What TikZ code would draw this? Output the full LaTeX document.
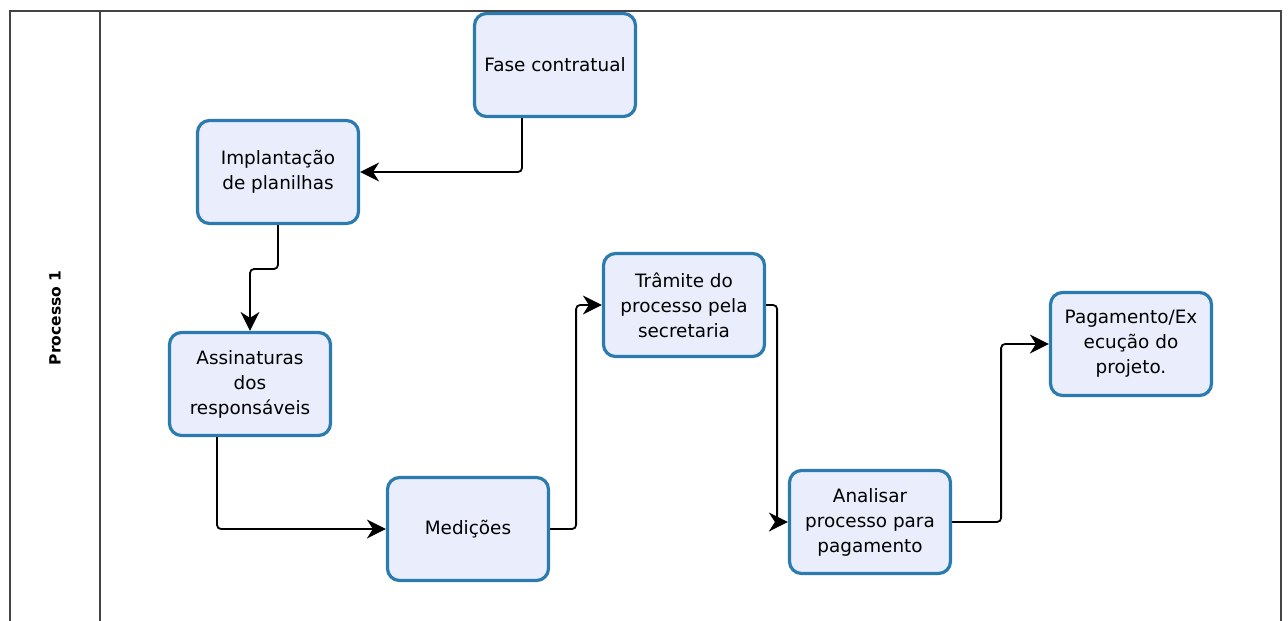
\documentclass[tikz,border=0pt]{standalone}
\usepackage{fontspec}
\setmainfont{DejaVu Sans}
\usetikzlibrary{arrows.meta}
\definecolor{boxborder}{HTML}{2B7BAE}
\definecolor{boxfill}{HTML}{EAEEFC}
\definecolor{framecol}{HTML}{444444}
\tikzset{
  stepbox/.style={draw=boxborder, fill=boxfill, line width=3.2pt, rounded corners=12pt,
    minimum width=161pt, minimum height=103pt, inner sep=0pt, align=center,
    font=\fontsize{18.4pt}{25pt}\selectfont, text=black},
  conn/.style={draw=black, line width=1.8pt, rounded corners=4pt,
    -{Stealth[length=19pt,width=19pt,inset=6pt]}},
  frameline/.style={draw=framecol, line width=1.8pt}
}
\begin{document}
\begin{tikzpicture}[x=1pt,y=-1pt]
\useasboundingbox (0,0) rectangle (1288,621);
\fill[white] (0,0) rectangle (1288,621);
\draw[frameline] (10,640) -- (10,11) -- (1281,11) -- (1281,640);
\draw[frameline] (100,11) -- (100,640);
\node[rotate=90, font=\fontsize{15.5pt}{18pt}\selectfont\bfseries] (lane) at (55,318) {Processo 1};

\node[stepbox] (fase) at (555,65) {Fase contratual};
\node[stepbox] (impl) at (278,172) {Implantação\\de planilhas};
\node[stepbox] (ass) at (250,384) {Assinaturas\\dos\\responsáveis};
\node[stepbox] (med) at (468,529) {Medições};
\node[stepbox] (tram) at (684,305) {Trâmite do\\processo pela\\secretaria};
\node[stepbox] (anal) at (870,522) {Analisar\\processo para\\pagamento};
\node[stepbox] (pag) at (1131,344) {Pagamento/Ex\\ecução do\\projeto.};

\draw[conn] ([xshift=-33pt]fase.south) |- (impl.east);
\draw[conn] (impl.south) -- (impl.south |- 0,269) -| (ass.north);
\draw[conn] ([xshift=-33pt]ass.south) |- (med.west);
\draw[conn] (med.east) -- ++(26,0) |- (tram.west);
\draw[conn] (tram.east) -- ++(11,0) |- (anal.west);
\draw[conn] (anal.east) -- ++(49,0) |- (pag.west);
\end{tikzpicture}
\end{document}
